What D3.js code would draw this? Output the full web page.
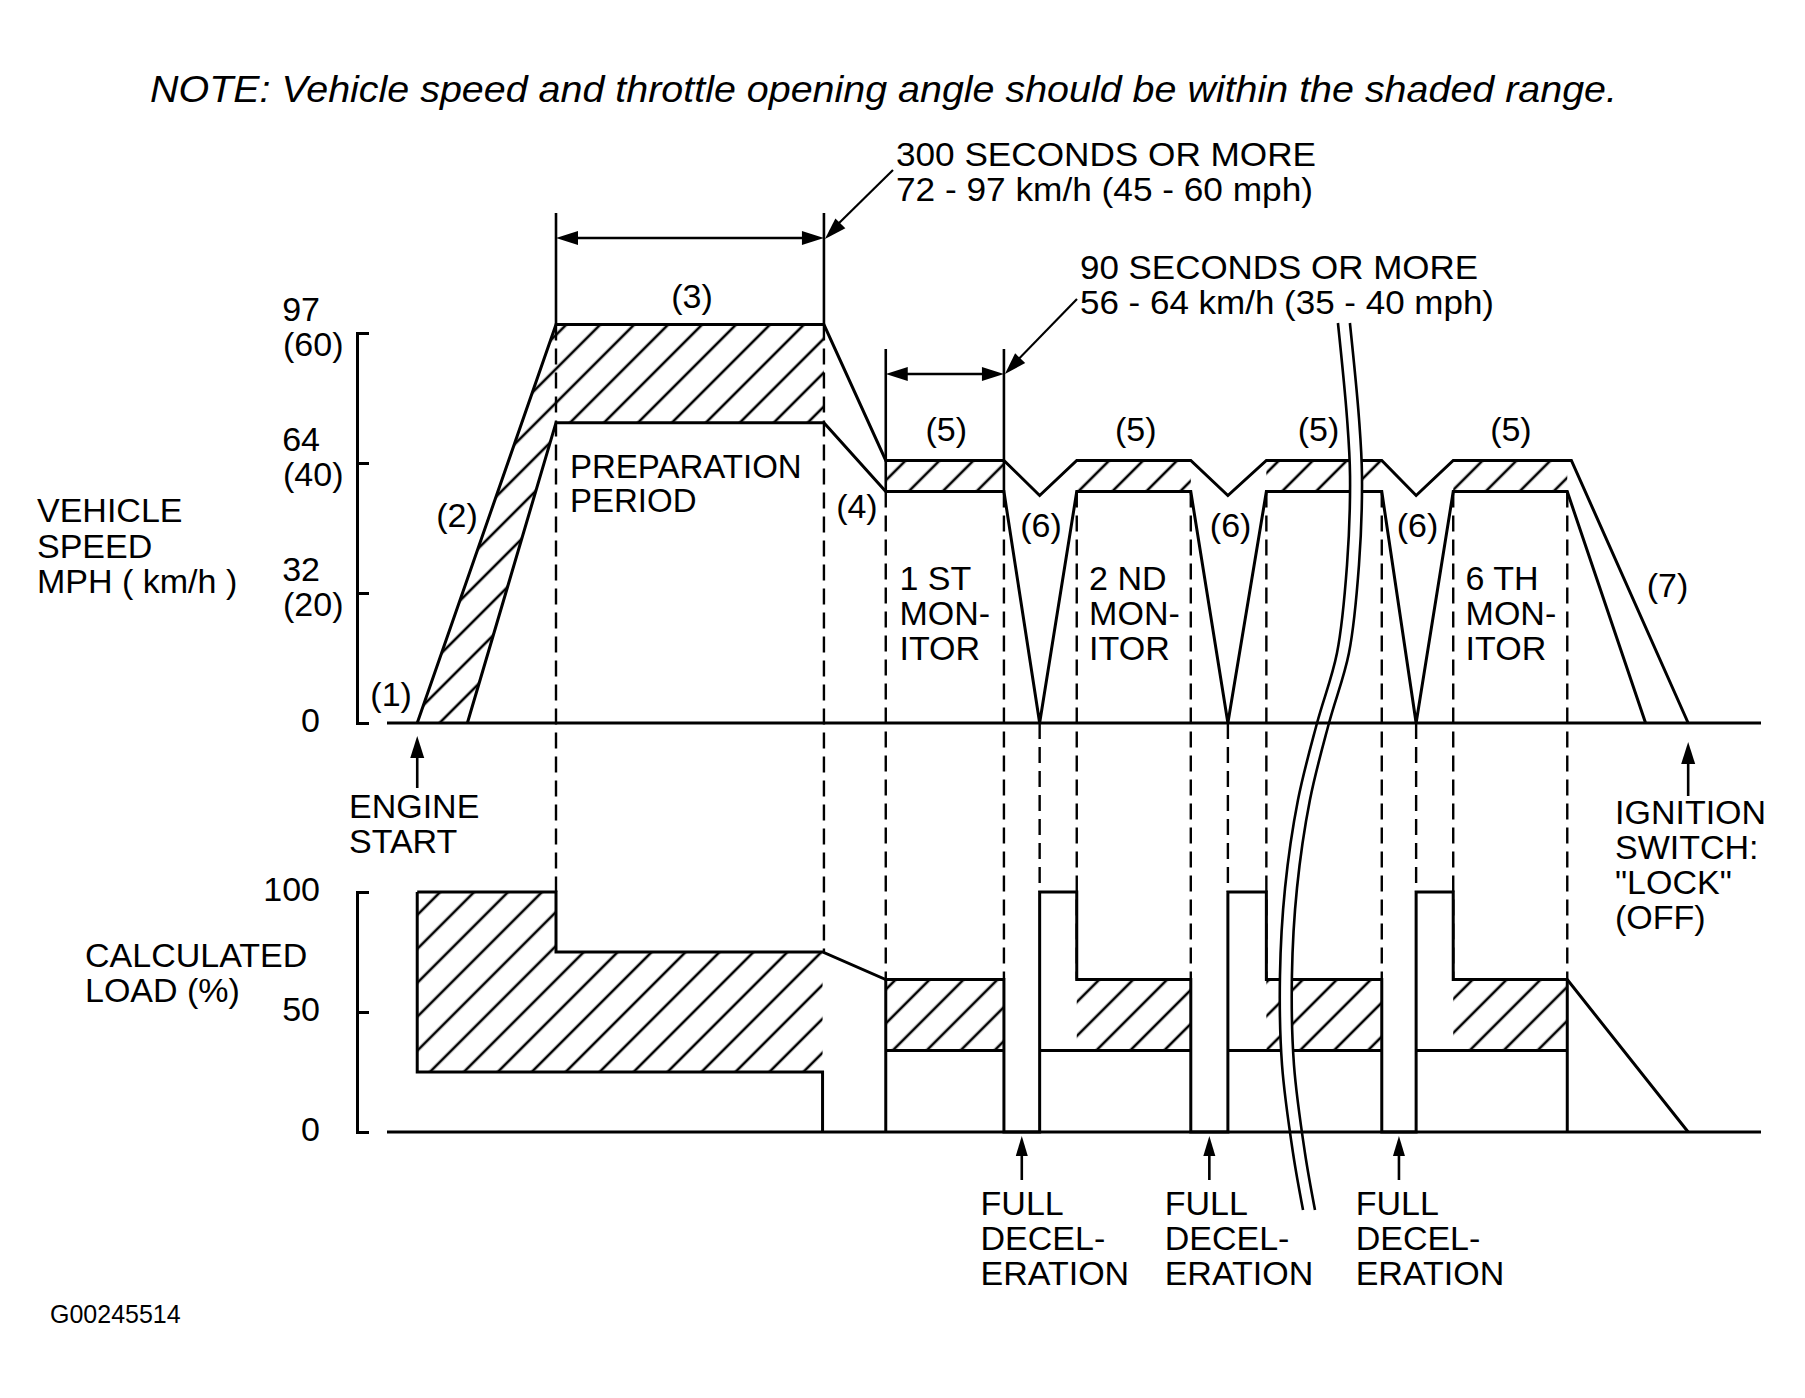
<!DOCTYPE html>
<html><head><meta charset="utf-8">
<script src="https://cdn.jsdelivr.net/npm/d3@7"></script>
<style>
body{margin:0;background:#fff}
text{font-family:"Liberation Sans",Arial,Helvetica,sans-serif;fill:#000}
</style>
</head><body>
<svg id="c" width="1805" height="1398" xmlns="http://www.w3.org/2000/svg"></svg>
<script>
// ---------------- DATA ----------------
// time axis in arbitrary units (0..100), speed in mph, load in %
const speedTicks = [0, 20, 40, 60];
const speedTickKmh = ["0", "32", "64", "97"];
const speedTickMph = ["", "(20)", "(40)", "(60)"];
const loadTicks = [0, 50, 100];
const loadTickLabels = ["0", "50", "100"];

// phase boundaries (time units)
const tStart = 2.2, tPrepStart = 12.3, tPrepEnd = 31.8;
const monitorStart = [36.3, 50.2, 64.0, 77.6];
const monitorEnd   = [44.9, 58.5, 72.4, 85.9];
const decelBottom  = [47.5, 61.2, 74.9];
const tEndUpper = 94.7;

// speed trace (mph)
const speedUpper = [[2.2,0],[12.3,61.3],[31.8,61.3],[36.3,40.4],[44.9,40.4],[47.5,35],[50.2,40.4],[58.5,40.4],[61.2,35],[64.0,40.4],[72.4,40.4],[74.9,35],[77.6,40.4],[86.2,40.4],[94.7,0]];
const speedLower = [[5.85,0],[12.3,46.2],[31.8,46.2],[36.3,35.6],[44.9,35.6],[47.5,0],[50.2,35.6],[58.5,35.6],[61.2,0],[64.0,35.6],[72.4,35.6],[74.9,0],[77.6,35.6],[85.9,35.6],[91.6,0]];
const speedHatchPrep = [[2.2,0],[12.3,61.3],[31.8,61.3],[31.8,46.2],[12.3,46.2],[5.85,0]];
const speedBandTop = 40.4, speedBandBottom = 35.6;

// calculated load trace (%)
const loadUpper = [[2.2,100],[12.3,100],[12.3,75],[31.7,75],[36.3,63.5],[44.9,63.5],[44.9,0],[47.5,0],[47.5,100],[50.2,100],[50.2,63.5],[58.5,63.5],[58.5,0],[61.2,0],[61.2,100],[64.0,100],[64.0,63.5],[72.4,63.5],[72.4,0],[74.9,0],[74.9,100],[77.6,100],[77.6,63.5],[85.9,63.5],[94.7,0]];
const loadLower = [[2.2,100],[2.2,25],[31.7,25],[31.7,0]];
const loadHatchPrep = [[2.2,100],[12.3,100],[12.3,75],[31.7,75],[31.7,25],[2.2,25]];
const loadBandTop = 63.5, loadBandBottom = 34;
const loadBandLowerStart = [36.3, 47.5, 61.2, 74.9];

// dashed guide lines: [t, speed value (top), load value (bottom)]
const guides = [[12.3,61.3,100],[31.8,61.3,75],[36.3,35.6,63.5],[44.9,35.6,63.5],[47.5,0,100],[50.2,35.6,63.5],[58.5,35.6,63.5],[61.2,0,100],[64.0,35.6,63.5],[72.4,35.6,63.5],[74.9,0,100],[77.6,35.6,63.5],[85.9,35.6,63.5]];

// break mark (t, vertical px)
const breakLeft = [[69.21,323],[69.87,418],[70.09,476],[69.87,565],[69.14,653],[67.69,723],[66.30,800],[65.36,888],[64.99,976],[65.14,1065],[65.94,1153],[66.67,1210]];
const breakGap = 0.87;

// labels
const stageLabels = [["(1)",0.3,706],["(2)",5.1,527],["(3)",22.2,308],["(4)",34.2,518],["(5)",40.7,441],["(5)",54.5,441],["(5)",67.8,441],["(5)",81.8,441],["(6)",47.6,537],["(6)",61.4,537],["(6)",75.0,537],["(7)",93.2,597]];
const monitorLabels = [["1 ST", 37.3], ["2 ND", 51.1], ["6 TH", 78.5]];
const decelLabelT = [43.2, 56.6, 70.5];

// ---------------- DRAW ----------------
const svg = d3.select("#c");
const x = d3.scaleLinear().domain([0,100]).range([387,1761]);
const yS = d3.scaleLinear().domain([0,60]).range([723,333]);
const yL = d3.scaleLinear().domain([0,100]).range([1132,892]);

const defs = svg.append("defs");
const pat = defs.append("pattern").attr("id","hatch").attr("patternUnits","userSpaceOnUse")
  .attr("width",24).attr("height",24).attr("patternTransform","rotate(45)");
pat.append("line").attr("x1",6).attr("y1",-2).attr("x2",6).attr("y2",26)
  .attr("stroke","#000").attr("stroke-width",2.6);

const lineS = d3.line().x(d=>x(d[0])).y(d=>yS(d[1]));
const lineL = d3.line().x(d=>x(d[0])).y(d=>yL(d[1]));
const LW = 3;

// hatch areas
svg.append("path").attr("d", lineS(speedHatchPrep)+"Z").attr("fill","url(#hatch)");
svg.append("path").attr("d", lineL(loadHatchPrep)+"Z").attr("fill","url(#hatch)");
monitorStart.forEach((s,i)=>{
  const e = monitorEnd[i];
  svg.append("rect").attr("x",x(s)).attr("width",x(e)-x(s)).attr("y",yS(speedBandTop)).attr("height",yS(speedBandBottom)-yS(speedBandTop)).attr("fill","url(#hatch)");
  svg.append("rect").attr("x",x(s)).attr("width",x(e)-x(s)).attr("y",yL(loadBandTop)).attr("height",yL(loadBandBottom)-yL(loadBandTop)).attr("fill","url(#hatch)");
});

// dashed guides
svg.append("g").selectAll("line").data(guides).join("line")
  .attr("x1",d=>x(d[0])).attr("x2",d=>x(d[0])).attr("y1",d=>yS(d[1])).attr("y2",d=>yL(d[2]))
  .attr("stroke","#000").attr("stroke-width",2.4).attr("stroke-dasharray","16,8");

// traces
svg.append("path").attr("d",lineS(speedUpper)).attr("fill","none").attr("stroke","#000").attr("stroke-width",LW);
svg.append("path").attr("d",lineS(speedLower)).attr("fill","none").attr("stroke","#000").attr("stroke-width",LW);
svg.append("path").attr("d",lineL(loadUpper)).attr("fill","none").attr("stroke","#000").attr("stroke-width",LW);
svg.append("path").attr("d",lineL(loadLower)).attr("fill","none").attr("stroke","#000").attr("stroke-width",LW);
monitorStart.forEach((s,i)=>{
  svg.append("line").attr("x1",x(loadBandLowerStart[i])).attr("x2",x(monitorEnd[i])).attr("y1",yL(loadBandBottom)).attr("y2",yL(loadBandBottom)).attr("stroke","#000").attr("stroke-width",LW);
});
[monitorStart[0], monitorEnd[3]].forEach(t=>{
  svg.append("line").attr("x1",x(t)).attr("x2",x(t)).attr("y1",yL(loadBandTop)).attr("y2",yL(0)).attr("stroke","#000").attr("stroke-width",LW);
});

// break mark (white gap between two curves)
const br = breakLeft.map(d=>[d[0]+breakGap,d[1]]);
const bLine = d3.line().x(d=>x(d[0])).y(d=>d[1]).curve(d3.curveCatmullRom);
svg.append("path").attr("d", bLine(breakLeft) + "L" + bLine(br.slice().reverse()).slice(1) + "Z").attr("fill","#fff");

// baselines
svg.append("line").attr("x1",x(0)).attr("x2",x(100)).attr("y1",yS(0)).attr("y2",yS(0)).attr("stroke","#000").attr("stroke-width",LW);
svg.append("line").attr("x1",x(0)).attr("x2",x(100)).attr("y1",yL(0)).attr("y2",yL(0)).attr("stroke","#000").attr("stroke-width",LW);

svg.append("path").attr("d",bLine(breakLeft)).attr("fill","none").attr("stroke","#000").attr("stroke-width",2.6);
svg.append("path").attr("d",bLine(br)).attr("fill","none").attr("stroke","#000").attr("stroke-width",2.6);

// axes (bracket style)
const ax1 = svg.append("g").attr("transform","translate(357,0)")
  .call(d3.axisRight(yS).tickValues(speedTicks).tickSize(12).tickFormat(""));
const ax2 = svg.append("g").attr("transform","translate(357,0)")
  .call(d3.axisRight(yL).tickValues(loadTicks).tickSize(12).tickFormat(""));
[ax1,ax2].forEach(a=>{a.selectAll("path,line").attr("stroke","#000").attr("stroke-width",LW);});

const FS = 34;
function txt(s, X, Y, opts={}){
  const lines = Array.isArray(s) ? s : [s];
  const t = svg.append("text").attr("x",X).attr("y",Y).attr("font-size",opts.fs||FS);
  if(opts.anchor) t.attr("text-anchor",opts.anchor);
  if(opts.italic) t.attr("font-style","italic");
  if(lines.length === 1){
    t.text(lines[0]);
    if(opts.len) t.attr("textLength",opts.len).attr("lengthAdjust","spacingAndGlyphs");
  } else {
    lines.forEach((l,i)=>{
      const sp = t.append("tspan").attr("x",X).attr("dy", i===0 ? 0 : (opts.lh||35)).text(l);
      if(opts.lens) sp.attr("textLength",opts.lens[i]).attr("lengthAdjust","spacingAndGlyphs");
    });
  }
  return t;
}
speedTicks.forEach((v,i)=>{
  txt(speedTickKmh[i], 320, v===0 ? yS(v)+9 : yS(v)-12, {anchor:"end"});
  if(speedTickMph[i]) txt(speedTickMph[i], 283, yS(v)+23);
});
loadTicks.forEach((v,i)=> txt(loadTickLabels[i], 320, yL(v)+9, {anchor:"end"}));

// arrows
function head(tx,ty,ang,len=22,half=7){
  const c=Math.cos(ang), s=Math.sin(ang);
  const bx=tx-len*c, by=ty-len*s;
  svg.append("path").attr("d",`M${tx},${ty}L${bx-half*s},${by+half*c}L${bx+half*s},${by-half*c}Z`).attr("fill","#000");
}
function seg(x1,y1,x2,y2,w=2.6){svg.append("line").attr("x1",x1).attr("y1",y1).attr("x2",x2).attr("y2",y2).attr("stroke","#000").attr("stroke-width",w);}

// 300 s bracket
[tPrepStart,tPrepEnd].forEach(t=>seg(x(t),213,x(t),yS(61.3),2.6));
seg(x(tPrepStart)+8,238,x(tPrepEnd)-8,238,2.6);
head(x(tPrepStart),238,Math.PI); head(x(tPrepEnd),238,0);
seg(893,170,x(tPrepEnd)+6,232,2.2); head(x(tPrepEnd)+1,239,Math.atan2(239-170,x(tPrepEnd)+1-893));
// 90 s bracket
[monitorStart[0],monitorEnd[0]].forEach(t=>seg(x(t),349,x(t),yS(speedBandBottom),2.6));
seg(x(monitorStart[0])+8,374,x(monitorEnd[0])-8,374,2.6);
head(x(monitorStart[0]),374,Math.PI); head(x(monitorEnd[0]),374,0);
seg(1077,299,x(monitorEnd[0])+6,368,2.2); head(x(monitorEnd[0])+1,374,Math.atan2(374-299,x(monitorEnd[0])+1-1077));

// engine start / ignition / full deceleration arrows
seg(x(tStart),788,x(tStart),750,2.6); head(x(tStart),736,-Math.PI/2,22,7);
seg(x(tEndUpper),796,x(tEndUpper),756,2.6); head(x(tEndUpper),742,-Math.PI/2,22,7);
decelBottom.forEach((b,i)=>{
  const t=(monitorEnd[i]+b)/2;
  seg(x(t),1180,x(t),1150,2.6); head(x(t),1136,-Math.PI/2,20,6);
});

// texts
txt("NOTE: Vehicle speed and throttle opening angle should be within the shaded range.",150,102,{italic:true,fs:37,len:1467});
txt(["300 SECONDS OR MORE","72 - 97 km/h (45 - 60 mph)"],896,166,{fs:33.5,lh:35,lens:[420,417]});
txt(["90 SECONDS OR MORE","56 - 64 km/h (35 - 40 mph)"],1080,279,{fs:33.5,lh:35,lens:[398,414]});
stageLabels.forEach(d=>txt(d[0],x(d[1]),d[2],{anchor:"middle"}));
txt(["PREPARATION","PERIOD"],570,478,{fs:33,lh:34});
monitorLabels.forEach(d=> txt([d[0],"MON-","ITOR"], x(d[1]), 590, {lh:35}));
txt(["VEHICLE","SPEED","MPH ( km/h )"],37,522,{lh:35.5});
txt(["CALCULATED","LOAD (%)"],85,967,{lh:35});
txt(["ENGINE","START"],349,818,{lh:35});
txt(["IGNITION","SWITCH:","\"LOCK\"","(OFF)"],1615,824,{lh:35});
decelLabelT.forEach(t=> txt(["FULL","DECEL-","ERATION"], x(t), 1215, {lh:35}));
txt("G00245514",50,1323,{fs:25});
</script>
</body></html>
